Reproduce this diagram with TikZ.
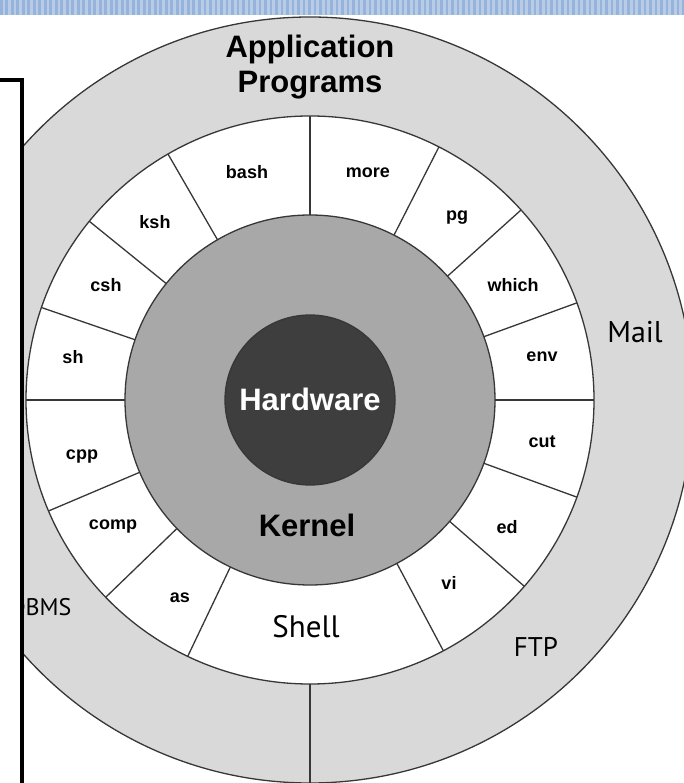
\documentclass[tikz,border=0pt]{standalone}
\usepackage{fontspec}
\setmainfont{Liberation Sans}
\newfontfamily\humanist{PT Sans}
\definecolor{ringgray}{RGB}{217,217,217}
\definecolor{kernelgray}{RGB}{168,168,168}
\definecolor{hwgray}{RGB}{62,62,62}
\definecolor{edge}{RGB}{55,55,55}
\definecolor{bandlight}{RGB}{184,204,230}
\definecolor{banddark}{RGB}{150,180,219}

\begin{document}
\begin{tikzpicture}[x=1pt,y=1pt,
    ring/.style={draw=edge, line width=1.3pt},
    cmd/.style={font=\bfseries\fontsize{18}{20}\selectfont},
    layer/.style={font=\bfseries\fontsize{31}{35}\selectfont, align=center},
    app/.style={font=\humanist\fontsize{#1}{34}\selectfont},
    app/.default=30]
  \useasboundingbox (-310,-383) rectangle (374,400);
  \clip (-310,-383) rectangle (374,400);

  % Rings
  \filldraw[ring, fill=ringgray] (0,0) circle (383);
  \filldraw[ring, fill=white] (0,0) circle (284);
  \filldraw[ring, fill=kernelgray] (0,0) circle (185);
  \filldraw[ring, fill=hwgray] (0,0) circle (85);

  % Dividers
  \foreach \a in {0,20,42,63,90,120,141,161,180,203,224,244.5,298,319,340}
    \draw[ring] (\a:185) -- (\a:284);
  \draw[ring] (270:284) -- (270:383);

  % Shell commands
  \foreach \name/\x/\y in {bash/-63/228, ksh/-155/178, csh/-204/115, sh/-237/43,
      more/58/227, pg/147/182, which/203/115, env/232/43, cut/232/-42,
      ed/197/-127, vi/139/-183, as/-130/-198, comp/-197/-127, cpp/-228/-57}
    \node[cmd] (\name) at (\x,\y) {\name};

  % Layers
  \node[layer, text=white] (hardware) at (0,1) {Hardware};
  \node[layer] (kernel) at (-3,-125) {Kernel};
  \node[app=31] (shell) at (-4,-227) {Shell};
  \node[layer] (apps) at (0,333) {Application\\Programs};

  % Outer ring
  \node[app] (mail) at (325,68) {Mail};
  \node[app=27] (ftp) at (226,-247) {FTP};
  \node[app=24, anchor=east] (dbms) at (-235,-207) {DBMS};

  % Frame
  \draw[line width=3.5pt, fill=white] (-340,320) rectangle (-288,-400);

  % Band
  \fill[bandlight] (-310,385) rectangle (374,400);
  \foreach \i in {0,...,125}
    \fill[banddark] (-310+5.5*\i,385) rectangle ++(2.7,15);
\end{tikzpicture}
\end{document}
